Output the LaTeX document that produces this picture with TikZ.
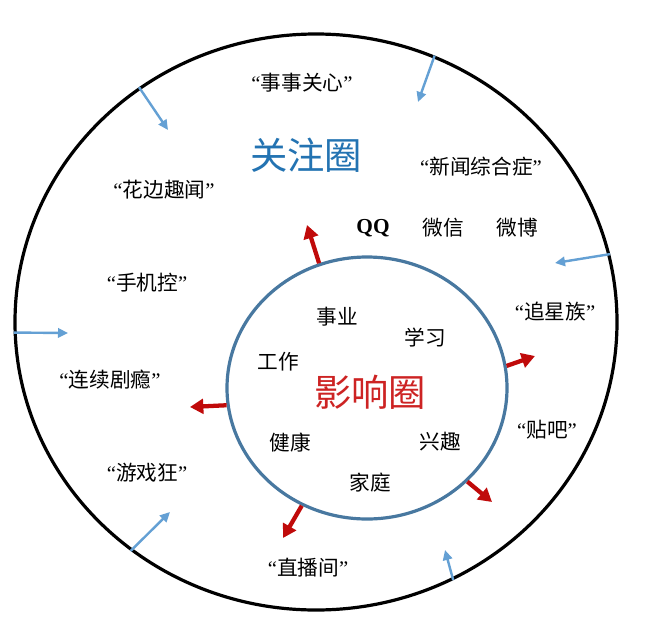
\documentclass[tikz,border=0pt]{standalone}
\usepackage{fontspec}
\setmainfont{Liberation Serif}
\newfontfamily\cjk{Noto Sans CJK SC}
\usetikzlibrary{arrows.meta, shapes.geometric}
\newcommand{\quoted}[1]{“{\cjk #1}”}

\begin{document}
\begin{tikzpicture}[x=0.75pt, y=-0.75pt]
  \definecolor{innercol}{RGB}{72,120,160}
  \definecolor{inarrcol}{RGB}{100,160,212}
  \definecolor{outarrcol}{RGB}{192,10,10}
  \definecolor{focuscol}{RGB}{35,115,178}
  \definecolor{reachcol}{RGB}{205,35,35}
  \tikzset{
    ring/.style={ellipse, inner sep=0pt, draw=#1, line width=2.4pt},
    word/.style={font=\fontsize{15.5}{18}\selectfont, inner sep=1pt},
    inword/.style={word, font=\fontsize{15.5}{18}\selectfont\cjk},
    title/.style={font=\fontsize{28}{32}\selectfont\cjk, text=#1, inner sep=1pt},
    inarr/.style={-{Triangle[length=7.5pt, width=7pt]}, line width=1.8pt, color=inarrcol},
    outarr/.style={-{Triangle[length=10pt, width=11pt]}, line width=3.2pt, color=outarrcol}
  }
  \fill[white] (0,0) rectangle (660,632);
  \useasboundingbox (0,0) rectangle (660,632);
  % the two circles
  \node[ring=black, minimum width=451.5pt, minimum height=432pt] (outer) at (316,322) {};
  \node[ring=innercol, minimum width=210pt, minimum height=196.5pt] (inner) at (367,388) {};
  \node[title=focuscol] (focus) at (306,155) {关注圈};
  \node[title=reachcol] (reach) at (370,392) {影响圈};
  % outer ring
  \node[word] (shishi) at (302,83) {\quoted{事事关心}};
  \node[word] (xinwen) at (481,167) {\quoted{新闻综合症}};
  \node[word] (huabian) at (164,190) {\quoted{花边趣闻}};
  \node[word, font=\fontsize{16}{18}\selectfont\bfseries] (qq) at (373,228) {QQ};
  \node[inword] (weixin) at (443,228) {微信};
  \node[inword] (weibo) at (517,228) {微博};
  \node[word] (shouji) at (147,283) {\quoted{手机控}};
  \node[word] (zhuixing) at (555,312) {\quoted{追星族}};
  \node[word] (lianxu) at (110,380) {\quoted{连续剧瘾}};
  \node[word] (tieba) at (547,430) {\quoted{贴吧}};
  \node[word] (youxi) at (147,473) {\quoted{游戏狂}};
  \node[word] (zhibo) at (308,568) {\quoted{直播间}};
  % inner ring
  \node[inword] (shiye) at (337,317) {事业};
  \node[inword] (xuexi) at (425,338) {学习};
  \node[inword] (gongzuo) at (278,362) {工作};
  \node[inword] (jiankang) at (290,443) {健康};
  \node[inword] (xingqu) at (440,442) {兴趣};
  \node[inword] (jiating) at (370,483) {家庭};
  % arrows
  \foreach \i/\a/\x/\y in {1/127.6/168/130, 2/66.5/418/102, 3/13.9/555/263,
                           4/182.1/68/333, 5/231.9/170/512, 6/298.6/445/550} {
    \coordinate (in\i) at (\x,\y);
    \draw[inarr] (outer.\a) -- (in\i);
  }
  \foreach \i/\a/\x/\y in {1/111.8/307/225, 2/9.5/535/356, 3/187.5/190/407,
                           4/317.6/492/502, 5/241.6/283/538} {
    \coordinate (out\i) at (\x,\y);
    \draw[outarr] (inner.\a) -- (out\i);
  }
\end{tikzpicture}
\end{document}
